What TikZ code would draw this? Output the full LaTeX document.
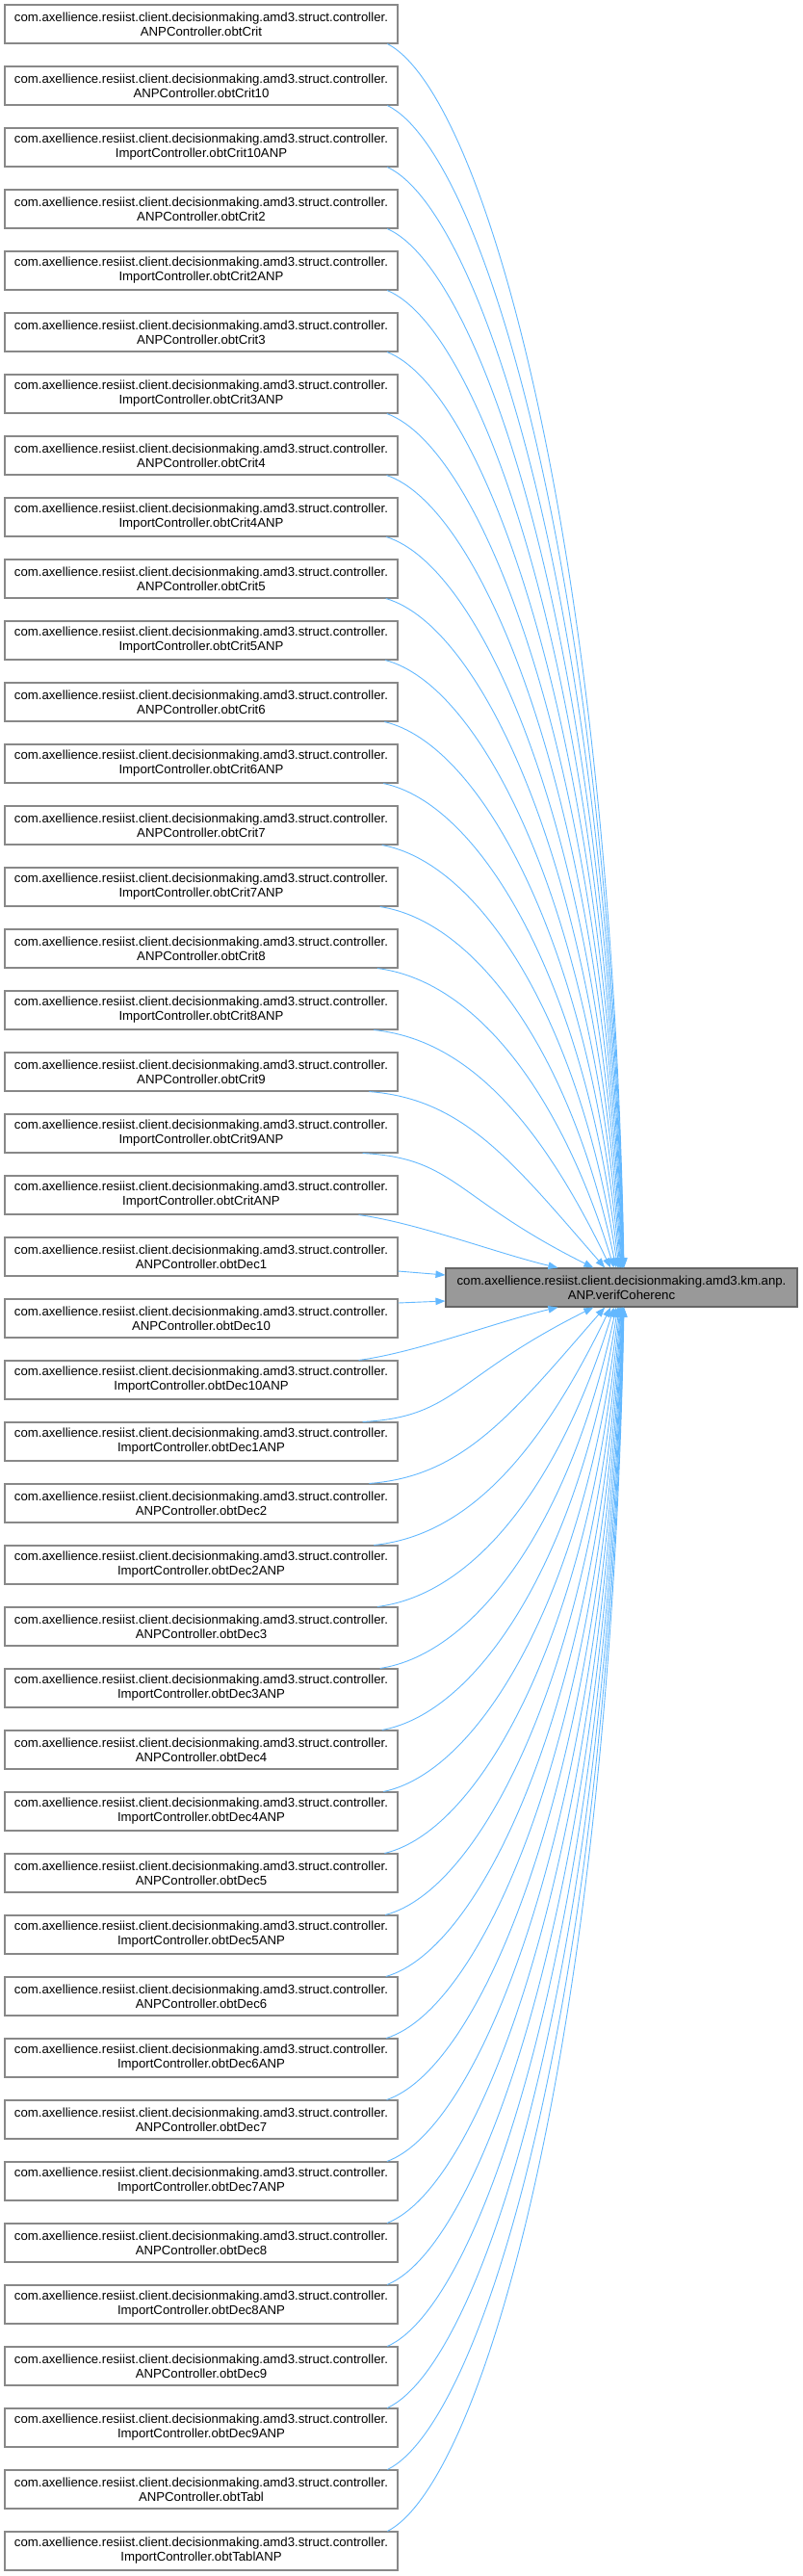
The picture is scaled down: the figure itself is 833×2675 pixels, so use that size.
\documentclass[tikz,border=0pt]{standalone}
\usepackage{fontspec}
\setmainfont{Liberation Sans}
\usetikzlibrary{arrows.meta,calc}
\definecolor{edgec}{HTML}{63B8FF}
\definecolor{bordc}{HTML}{888888}
\definecolor{tfill}{HTML}{999999}
\definecolor{tbord}{HTML}{666666}
\begin{document}
\begin{tikzpicture}[x=1pt,y=-1pt,
  box/.style={draw=bordc, line width=1.1pt, fill=white, minimum width=408pt, minimum height=40pt, inner sep=0pt, align=center, font=\fontsize{13.2}{15}\selectfont},
  tbox/.style={box, fill=tfill, draw=tbord, minimum width=365pt},
  edge/.style={draw=edgec, line width=0.9pt, -{Triangle[length=10pt,width=7.5pt]}}]
\useasboundingbox (0,0) rectangle (833,2675);
\foreach \lab [count=\i from 0] in {ANPController.obtCrit, ANPController.obtCrit10, ImportController.obtCrit10ANP,
  ANPController.obtCrit2, ImportController.obtCrit2ANP, ANPController.obtCrit3, ImportController.obtCrit3ANP,
  ANPController.obtCrit4, ImportController.obtCrit4ANP, ANPController.obtCrit5, ImportController.obtCrit5ANP,
  ANPController.obtCrit6, ImportController.obtCrit6ANP, ANPController.obtCrit7, ImportController.obtCrit7ANP,
  ANPController.obtCrit8, ImportController.obtCrit8ANP, ANPController.obtCrit9, ImportController.obtCrit9ANP,
  ImportController.obtCritANP, ANPController.obtDec1, ANPController.obtDec10, ImportController.obtDec10ANP,
  ImportController.obtDec1ANP, ANPController.obtDec2, ImportController.obtDec2ANP, ANPController.obtDec3,
  ImportController.obtDec3ANP, ANPController.obtDec4, ImportController.obtDec4ANP, ANPController.obtDec5,
  ImportController.obtDec5ANP, ANPController.obtDec6, ImportController.obtDec6ANP, ANPController.obtDec7,
  ImportController.obtDec7ANP, ANPController.obtDec8, ImportController.obtDec8ANP, ANPController.obtDec9,
  ImportController.obtDec9ANP, ANPController.obtTabl, ImportController.obtTablANP} {
  \node[box] (b\i) at (209, 25+64*\i) {com.axellience.resiist.client.decisionmaking.amd3.struct.controller.\\\lab};
}
\node[tbox] (t) at (645.5,1337) {com.axellience.resiist.client.decisionmaking.amd3.km.anp.\\ANP.verifCoherenc};
\foreach \n in {1,...,19} {
  \pgfmathtruncatemacro\ii{19-\n}
  \pgfmathtruncatemacro\jj{22+\n}
  \pgfmathsetmacro\sx{402-26*exp(-0.3*(\n-1))}
  \pgfmathsetmacro\ex{652-72/(1+1.05*\n)}
  \pgfmathsetmacro\dd{56+64*\n}
  \pgfmathsetmacro\ddx{\ex-\sx}
  \pgfmathsetmacro\ax{0.4*\ddx}
  \pgfmathsetmacro\ay{0.04*\dd}
  \pgfmathsetmacro\myg{0.6*\ddx*min(1,120/\dd)}
  \pgfmathsetmacro\myh{0.6*\dd}
  \pgfmathsetmacro\sxo{\sx-413}
  \pgfmathsetmacro\exo{\ex-463}
  \draw[edge] ([xshift=\sxo pt]b\ii.south east) .. controls +(\ax,\ay) and +(-\myg,-\myh) .. ([xshift=\exo pt]t.north west);
  \draw[edge] ([xshift=\sxo pt]b\jj.north east) .. controls +(\ax,-\ay) and +(-\myg,\myh) .. ([xshift=\exo pt]t.south west);
}
\draw[edge] ([xshift=-41pt]b19.south east) .. controls +(60,8) and +(-60,-14) .. ([xshift=117pt]t.north west);
\draw[edge] ([xshift=-41pt]b22.north east) .. controls +(60,-8) and +(-60,14) .. ([xshift=117pt]t.south west);
\draw[edge] ([yshift=-15pt]b20.east) -- ([yshift=13pt]t.west);
\draw[edge] ([yshift=16pt]b21.east) -- ([yshift=-14pt]t.west);
\end{tikzpicture}
\end{document}
